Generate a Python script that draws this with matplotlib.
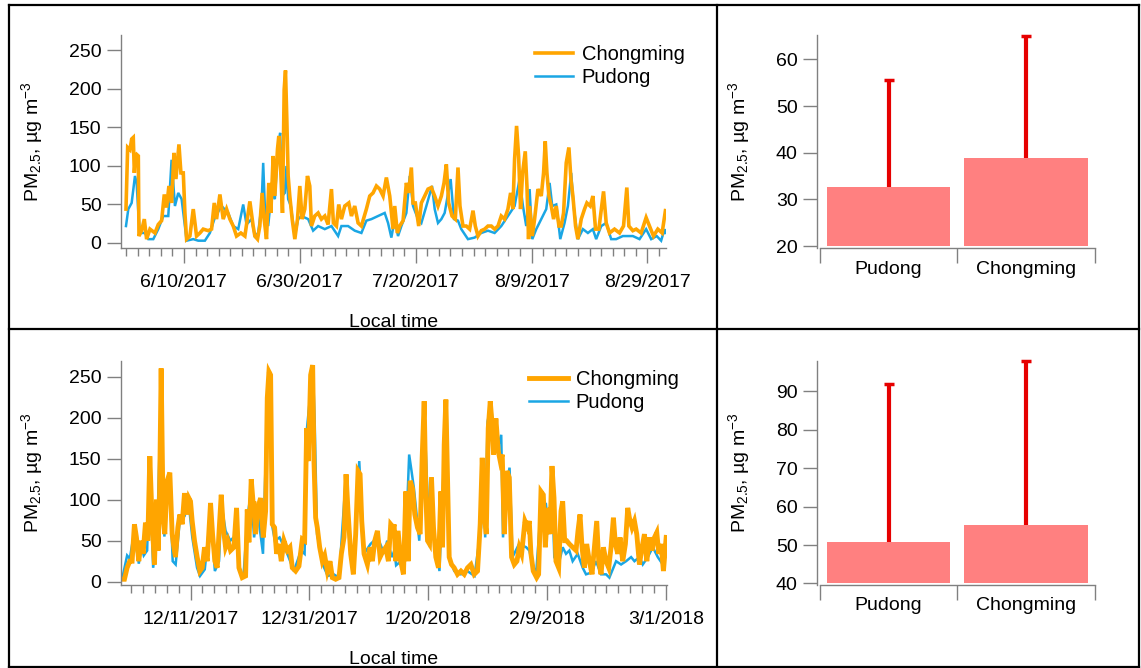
import numpy as np
import pandas as pd
import matplotlib
matplotlib.use('Agg')
import matplotlib.pyplot as plt
from matplotlib.lines import Line2D

plt.rcParams['font.family'] = ['Liberation Sans', 'DejaVu Sans']
plt.rcParams['mathtext.fontset'] = 'custom'
plt.rcParams['mathtext.rm'] = 'Liberation Sans'
plt.rcParams['mathtext.it'] = 'Liberation Sans:italic'
plt.rcParams['mathtext.bf'] = 'Liberation Sans:bold'

# ---------------- data ----------------
summer_start = '2017-05-31'
winter_start = '2017-12-01'

summer_ticks = ['6/10/2017', '6/30/2017', '7/20/2017', '8/9/2017', '8/29/2017']
winter_ticks = ['12/11/2017', '12/31/2017', '1/20/2018', '2/9/2018', '3/1/2018']

# summer, Chongming (days since start, ug/m3)
summer_cm_day = [0.0, 0.29, 0.69, 0.98, 1.26, 1.44, 1.67, 1.84, 2.13, 2.24, 2.70, 3.16, 3.56, 4.14, 5.00,
                 5.57, 6.15, 6.61, 7.01, 7.41, 7.87, 8.28, 8.62, 9.14, 9.48, 9.89, 10.17, 10.46, 11.03,
                 11.61, 12.18, 12.76, 13.33, 14.20, 14.77, 15.23, 15.63, 16.21, 16.78, 17.36, 17.93,
                 18.51, 19.08, 19.83, 20.52, 21.38, 21.95,
                 22.24, 22.70, 23.10, 23.50, 23.85, 24.25, 24.65, 25.00, 25.40, 25.69, 26.15, 26.38,
                 26.72, 27.01, 27.30, 27.53, 27.76, 27.99, 28.27, 28.68, 29.14, 29.60, 30.00, 30.40,
                 30.86, 31.32, 31.72, 32.01, 32.58, 33.16, 33.73, 34.31, 34.88, 35.46, 35.80, 36.32,
                 36.72, 37.18, 37.76, 38.45, 38.91, 39.48, 40.06, 40.63, 41.49, 42.07, 42.64, 43.22,
                 43.79, 44.37, 44.94, 45.52, 46.09,
                 46.38, 46.84, 47.24, 47.82, 48.39, 48.79, 49.25, 49.54, 49.94, 50.52, 50.98, 51.55,
                 52.13, 52.70, 53.28, 53.85, 54.43, 54.89, 55.29, 55.69, 56.27, 56.84, 57.30, 57.64,
                 58.16, 58.74, 59.31, 59.89, 60.29, 60.75, 61.32, 61.90, 62.47, 63.05, 63.62, 64.20,
                 64.77, 65.34, 65.92, 66.38, 66.78, 67.07, 67.41, 67.76, 68.10, 68.45, 68.91, 69.20,
                 69.48,
                 69.66, 70.12, 70.52, 71.10, 71.67, 72.07, 72.36, 72.65, 72.99, 73.40, 73.80, 74.26,
                 74.72, 75.12, 75.52, 75.98, 76.44, 76.79, 77.13, 77.59, 77.99, 78.57, 79.14, 79.55,
                 80.12, 80.58, 81.04, 81.61, 82.42, 82.88, 83.45, 84.31, 85.18, 85.87, 86.44, 86.79,
                 87.48, 88.05, 88.91, 89.77, 90.35, 91.04, 91.79, 92.53, 93.10]
summer_cm_val = [44, 124, 121, 135, 137, 91, 113, 115, 113, 9, 16, 31, 5, 18, 13,
                 24, 29, 63, 46, 74, 52, 117, 83, 128, 91, 91, 39, 5, 9,
                 44, 9, 13, 18, 16, 18, 52, 31, 63, 31, 44, 31,
                 22, 9, 13, 9, 54, 22,
                 9, 5, 22, 65, 31, 5, 78, 39, 113, 61, 122, 139,
                 91, 39, 199, 224, 160, 87, 61, 31, 5, 31, 74, 31,
                 44, 87, 74, 22, 35, 39, 31, 35, 24, 70, 26, 22,
                 50, 31, 48, 52, 35, 48, 26, 22, 44, 61, 65, 74,
                 70, 61, 85, 61, 18,
                 48, 13, 22, 29, 78, 65, 98, 52, 52, 22, 52, 61,
                 70, 72, 61, 48, 61, 78, 102, 52, 35, 31, 98, 48,
                 22, 22, 18, 42, 22, 9, 16, 18, 22, 22, 18, 22,
                 35, 31, 44, 65, 44, 109, 152, 113, 44, 91, 119, 74,
                 5,
                 48, 9, 31, 70, 61, 91, 132, 91, 61, 48, 31, 48,
                 22, 22, 39, 104, 124, 83, 61, 22, 5, 31, 44, 52,
                 48, 61, 18, 18, 67, 26, 13, 18, 13, 22, 72, 22,
                 16, 18, 13, 33, 22, 9, 18, 13, 42]

# summer, Pudong
summer_pd_day = [0.0, 0.40, 0.98, 1.55, 1.84, 2.13, 2.41, 3.28, 3.85, 4.71, 5.57, 6.44, 7.30, 7.87,
                 8.45, 9.02, 9.60, 10.17, 10.46, 11.61, 12.47, 13.62, 14.48, 15.34, 16.49, 17.64,
                 18.51, 19.37, 20.23, 20.80, 21.67,
                 22.24, 22.81, 23.39, 23.68, 23.96, 24.54, 25.11, 25.69, 26.26, 26.61, 26.95, 27.41,
                 27.70, 27.99, 28.45, 29.14, 29.71, 30.29, 31.44, 32.30, 33.16, 34.31, 35.46, 36.61,
                 37.18, 38.33, 39.48, 40.63, 41.49, 42.36, 43.50, 44.65, 45.23, 45.80,
                 46.38, 46.95, 47.53, 48.39, 48.97, 49.54, 50.40, 50.98, 51.84, 52.82, 53.28, 53.85,
                 54.43, 55.00, 56.03, 56.61, 57.30, 57.87, 59.02, 60.17, 61.32, 62.47, 63.62, 64.77,
                 65.92, 67.07, 67.93, 68.51, 69.08,
                 69.66, 70.12, 70.81, 71.67, 72.53, 73.11, 73.57, 74.26, 74.95, 75.69, 76.27, 76.84,
                 77.25, 77.99, 78.86, 79.72, 80.58, 81.15, 82.02, 82.88, 83.74, 84.60, 85.75, 86.61,
                 87.48, 88.63, 89.77, 90.64, 91.60, 92.36, 92.94, 93.10]
summer_pd_val = [22, 44, 52, 87, 78, 39, 13, 13, 5, 5, 18, 35, 35, 108,
                 48, 65, 57, 22, 3, 5, 3, 3, 13, 33, 48, 39,
                 22, 18, 50, 24, 31,
                 9, 13, 48, 104, 48, 22, 65, 57, 126, 143, 61, 65,
                 100, 57, 48, 9, 31, 35, 31, 16, 22, 18, 22, 9,
                 22, 22, 16, 13, 29, 31, 35, 39, 26, 7,
                 31, 9, 22, 39, 87, 48, 31, 26, 48, 74, 44, 26,
                 31, 39, 83, 31, 29, 18, 5, 7, 13, 16, 13, 22,
                 35, 48, 83, 48, 22,
                 70, 5, 18, 31, 44, 78, 48, 50, 5, 26, 48, 91,
                 48, 5, 18, 13, 18, 5, 22, 26, 5, 5, 9, 9,
                 9, 5, 18, 5, 9, 3, 18, 13]

# winter, Chongming
winter_cm_day = [-1.52, -1.12, -0.67, -0.22, 0.17, 0.56, 0.90, 1.29, 1.69, 2.02, 2.42, 2.81, 3.15, 3.54,
                 3.93, 4.27, 4.55, 4.78, 5.06, 5.39, 5.67, 6.07, 6.52, 6.91, 7.19, 7.47, 7.87, 8.20,
                 8.60, 8.99, 9.33, 9.72, 10.00, 10.28, 10.67, 11.12, 11.57, 11.97, 12.36, 12.81, 13.37,
                 13.71, 14.10, 14.49, 14.78, 15.17, 15.51, 15.90, 16.29, 16.74, 17.30, 17.75, 18.15,
                 18.71, 19.27, 19.55, 19.83, 20.22, 20.56,
                 20.67, 20.95, 21.34, 21.79, 22.24, 22.64, 22.92, 23.20, 23.48, 23.76, 24.15, 24.49,
                 24.88, 25.28, 25.73, 26.29, 26.74, 27.13, 27.69, 28.25, 28.82, 29.21, 29.55, 29.83,
                 30.22, 30.56, 30.78, 31.06, 31.34, 31.74, 32.19, 32.58, 33.03, 33.48, 33.87, 34.43,
                 34.99, 35.39, 35.84, 36.18, 36.51, 36.96, 37.41, 37.80, 38.20, 38.54, 38.82, 39.21,
                 39.77, 40.22, 40.61, 41.01, 41.46, 41.91, 42.30, 42.86, 43.31, 43.70, 44.15,
                 44.27, 44.55, 44.94, 45.39, 45.84, 46.24, 46.63, 46.97, 47.36, 47.75, 48.20, 48.65,
                 48.99, 49.33, 49.61, 49.89, 50.22, 50.56, 50.90, 51.29, 51.74, 52.13, 52.42, 52.70,
                 52.98, 53.26, 53.54, 53.93, 54.38, 54.94, 55.51, 56.07, 56.63, 57.19, 57.75, 58.31,
                 58.76, 59.10, 59.44, 59.78, 60.11, 60.45, 60.73, 61.01, 61.40, 61.80, 62.13, 62.47,
                 62.81, 63.26, 63.65, 64.04, 64.49, 64.94, 65.34, 65.73, 66.29, 66.74,
                 67.02, 67.30, 67.69, 68.26, 68.59, 68.99, 69.38, 69.72, 70.11, 70.50, 70.84, 71.18,
                 71.51, 71.96, 72.36, 72.64, 72.98, 73.31, 73.76, 74.32, 74.89, 75.22, 75.56, 75.90,
                 76.29, 76.68, 77.13, 77.58, 77.98, 78.37, 78.71, 79.10, 79.49, 79.94, 80.39, 80.78,
                 81.18, 81.51, 81.91, 82.30, 82.75, 83.20, 83.59, 83.87, 84.32, 84.72, 85.11, 85.56,
                 86.01, 86.40, 86.80, 87.24, 87.69, 88.09, 88.48, 88.82, 89.21, 89.60, 90.06]
winter_cm_val = [3, 3, 17, 25, 25, 70, 54, 25, 50, 34, 72, 50, 153, 74,
                 21, 100, 38, 102, 260, 78, 58, 123, 133, 58, 42, 30, 66, 82,
                 70, 108, 82, 102, 98, 74, 50, 30, 13, 17, 42, 25, 96,
                 58, 25, 17, 58, 106, 66, 42, 50, 38, 42, 90, 17,
                 5, 7, 88, 48, 125, 94,
                 98, 58, 90, 102, 54, 86, 224, 256, 252, 70, 66, 34,
                 46, 25, 50, 38, 42, 17, 13, 19, 52, 50, 187, 147,
                 252, 264, 147, 78, 66, 42, 25, 32, 13, 25, 5, 3,
                 5, 34, 54, 131, 86, 34, 9, 58, 135, 131, 74, 34,
                 21, 42, 25, 50, 62, 30, 36, 42, 25, 70, 66,
                 70, 25, 62, 25, 9, 110, 25, 123, 114, 82, 66, 58,
                 151, 220, 106, 50, 46, 127, 66, 30, 17, 110, 42, 167,
                 222, 127, 30, 21, 17, 9, 13, 9, 17, 21, 9, 13,
                 70, 151, 82, 58, 187, 220, 195, 155, 199, 159, 147, 155,
                 58, 135, 127, 30, 21, 25, 42, 34, 74, 66,
                 74, 34, 13, 5, 9, 110, 106, 42, 90, 58, 141, 102,
                 25, 17, 86, 98, 50, 50, 46, 42, 38, 62, 82, 42,
                 17, 46, 25, 9, 42, 74, 25, 9, 42, 25, 17, 42,
                 78, 46, 34, 54, 25, 46, 90, 78, 66, 74, 58, 21,
                 42, 58, 25, 54, 38, 54, 60, 34, 46, 13, 54]

# winter, Pudong
winter_pd_day = [-1.52, -0.67, -0.22, 0.50, 1.30, 1.70, 2.13, 2.70, 3.10, 3.71, 4.38, 5.06, 5.60, 6.10,
                 6.50, 7.00, 7.50, 8.20, 9.00, 9.70, 10.30, 11.10, 11.60, 12.40, 13.40, 14.10, 14.80,
                 15.20, 15.90, 16.70, 17.80, 18.20, 18.90, 19.60, 20.20, 20.70, 21.30, 22.20, 22.90,
                 23.20, 23.80, 24.20, 25.00, 26.30, 27.40, 28.60, 29.20, 29.60, 30.60, 30.90, 31.30,
                 32.50, 33.10, 34.10, 35.00, 36.10, 36.90, 37.50, 38.40, 39.20, 40.30, 41.50, 42.60,
                 43.10, 43.90, 44.30, 44.60, 45.40, 45.80, 46.50, 46.80, 47.20, 47.60, 48.50, 49.00,
                 49.30, 49.90, 50.30, 50.60, 51.00, 51.90, 52.40, 52.70, 53.10, 53.50, 54.40, 55.50,
                 56.60, 57.80, 58.90, 59.20, 59.60, 60.00, 60.60, 61.10, 61.70, 62.30, 62.60, 63.20,
                 63.70, 64.20, 65.30, 66.50,
                 67.02, 68.14, 68.99, 69.83, 70.39, 70.84, 71.23, 71.96, 72.64, 73.20, 73.76, 74.32,
                 75.17, 76.01, 76.57, 77.41, 78.26, 79.10, 79.94, 80.50, 81.63, 82.47, 83.31, 84.16,
                 84.72, 85.56, 86.12, 86.97, 87.81, 88.65, 89.49, 90.06]
winter_pd_val = [3, 32, 28, 60, 22, 45, 32, 38, 140, 17, 58, 230, 55, 110,
                 120, 25, 21, 75, 80, 95, 54, 17, 7, 15, 85, 13, 25,
                 95, 62, 50, 58, 13, 5, 80, 110, 54, 85, 34, 212,
                 252, 66, 50, 54, 34, 13, 38, 34, 187, 260, 195, 58,
                 17, 7, 9, 5, 123, 34, 17, 147, 34, 46, 54, 34,
                 50, 30, 38, 20, 25, 17, 98, 155, 135, 114, 50, 127,
                 212, 106, 42, 110, 58, 13, 100, 155, 216, 30, 13, 9,
                 13, 7, 66, 140, 54, 195, 216, 167, 163, 179, 54, 120,
                 139, 30, 46, 42,
                 38, 7, 90, 94, 58, 120, 30, 21, 42, 34, 38, 25,
                 34, 17, 9, 11, 25, 9, 9, 5, 25, 21, 25, 30,
                 25, 30, 21, 30, 42, 30, 21, 34]

# campaign mean and upper error (mean + SD)
bar_sites = ['Pudong', 'Chongming']
summer_mean = [32.6, 38.8]
summer_upper = [55.5, 65.0]
winter_mean = [50.7, 55.1]
winter_upper = [92.0, 97.8]

# ---------------- style ----------------
W, H = 1141, 668
ORANGE = '#FFA500'
BLUE = '#1AA6E4'
BAR = '#FF8080'
ERR = '#E60000'
GRAY = '#808080'
FS = 14
YLABEL = r'PM$_{2.5}$, µg m$^{-3}$'

fig = plt.figure(figsize=(W / 100, H / 100), dpi=100)


def ax_px(l, t, r, b):
    return fig.add_axes([l / W, 1 - b / H, (r - l) / W, (b - t) / H])


def style_axes(ax):
    for s in ['top', 'right']:
        ax.spines[s].set_visible(False)
    for s in ['left', 'bottom']:
        ax.spines[s].set_color(GRAY)
        ax.spines[s].set_linewidth(1.0)
    ax.tick_params(axis='y', which='major', direction='out', length=10, width=1,
                   color=GRAY, labelsize=FS, pad=4)


def timeseries(ax, start, cm_day, cm_val, pd_day, pd_val, tick_lbls, xlim, ylim, minor_end,
               lw_cm, leg_anchor):
    style_axes(ax)
    l_pd, = ax.plot(pd_day, pd_val, color=BLUE, lw=1.8, solid_joinstyle='miter')
    l_cm, = ax.plot(cm_day, cm_val, color=ORANGE, lw=lw_cm, solid_joinstyle='miter')
    ax.set_xlim(*xlim)
    ax.set_ylim(*ylim)
    ax.set_yticks([0, 50, 100, 150, 200, 250])
    t0 = pd.Timestamp(start)
    major = [(pd.to_datetime(s) - t0).days for s in tick_lbls]
    ax.set_xticks(major)
    ax.set_xticklabels(tick_lbls)
    ax.set_xticks(np.arange(0, minor_end, 2), minor=True)
    ax.tick_params(axis='x', which='major', direction='out', length=11, width=1,
                   color=GRAY, labelsize=FS, pad=8)
    ax.tick_params(axis='x', which='minor', direction='out', length=6, width=1, color=GRAY)
    ax.set_xlabel('Local time', fontsize=FS, labelpad=16)
    ax.set_ylabel(YLABEL, fontsize=FS)
    ax.yaxis.set_label_coords(-0.14, 0.5)
    ax.legend([l_cm, l_pd], ['Chongming', 'Pudong'], loc='upper left', bbox_to_anchor=leg_anchor,
              frameon=False, fontsize=FS + 0.5, handlelength=1.9, handletextpad=0.4,
              labelspacing=0.2, borderaxespad=0, borderpad=0)


def bars(ax, mean, upper, ylim, yticks):
    style_axes(ax)
    x = np.arange(len(bar_sites))
    base = ylim[0] + 0.4
    ax.bar(x, np.array(mean) - base, bottom=base, width=0.9, color=BAR, zorder=2)
    ax.vlines(x, mean, upper, colors=ERR, lw=3, zorder=3, clip_on=False)
    ax.plot(x, upper, ls='none', marker='_', ms=7, mew=2.5, color=ERR, zorder=3, clip_on=False)
    ax.set_ylim(*ylim)
    ax.set_yticks(yticks)
    ax.set_xlim(-0.52, 1.5)
    ax.spines['bottom'].set_bounds(-0.5, 1.5)
    ax.set_xticks([-0.5, 0.5, 1.5])
    ax.set_xticklabels([])
    ax.set_xticks(x, minor=True)
    ax.set_xticklabels(bar_sites, minor=True)
    ax.tick_params(axis='x', which='major', direction='out', length=11, width=1, color=GRAY)
    ax.tick_params(axis='x', which='minor', length=0, labelsize=FS, pad=9)
    ax.set_ylabel(YLABEL, fontsize=FS)
    ax.yaxis.set_label_coords(-0.235, 0.5)


ax1 = ax_px(121, 35, 666, 248)
timeseries(ax1, summer_start, summer_cm_day, summer_cm_val, summer_pd_day, summer_pd_val,
           summer_ticks, (-0.86, 93.2), (-6.5, 270), 94, 2.6, (0.76, 0.952))

ax2 = ax_px(121, 361, 667, 585)
timeseries(ax2, winter_start, winter_cm_day, winter_cm_val, winter_pd_day, winter_pd_val,
           winter_ticks, (-1.7, 90.2), (-4, 269), 91, 3.5, (0.748, 0.96))

ax3 = ax_px(817, 35, 1095, 248)
bars(ax3, summer_mean, summer_upper, (19.6, 65.2), [20, 30, 40, 50, 60])

ax4 = ax_px(817, 361, 1095, 585)
bars(ax4, winter_mean, winter_upper, (39.6, 97.9), [40, 50, 60, 70, 80, 90])


# panel frame
def fline(x0, y0, x1, y1):
    fig.add_artist(Line2D([x0 / W, x1 / W], [1 - y0 / H, 1 - y1 / H], color='black', lw=1.6,
                          transform=fig.transFigure))


fline(9, 5, 1139, 5)
fline(9, 667, 1139, 667)
fline(9, 5, 9, 667)
fline(1139, 5, 1139, 667)
fline(717, 5, 717, 667)
fline(9, 329, 1139, 329)

fig.savefig('out.png', dpi=100)
